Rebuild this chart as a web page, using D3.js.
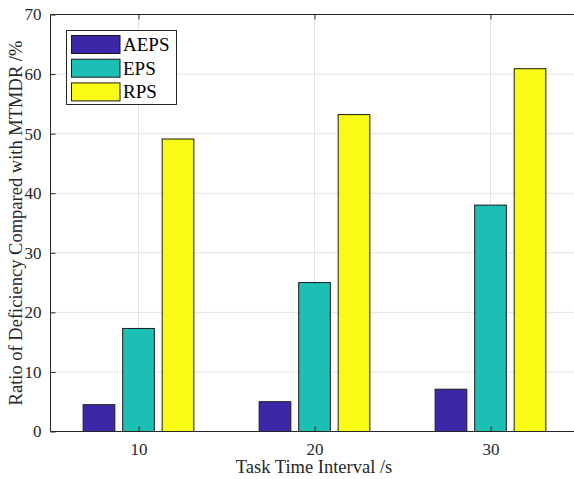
<!DOCTYPE html>
<html><head><meta charset="utf-8">
<script src="https://cdn.jsdelivr.net/npm/d3@7"></script>
<style>body{margin:0;background:#fff}svg{display:block}</style>
</head><body>
<script>
const categories = [10, 20, 30];
const seriesNames = ["AEPS", "EPS", "RPS"];
const aeps = [4.5, 5.0, 7.1];
const eps = [17.3, 25.0, 38.0];
const rps = [49.1, 53.2, 60.9];
const yTicks = [0, 10, 20, 30, 40, 50, 60, 70];
const colors = ["#3e26a8", "#1bbfb4", "#f9fb15"];
const series = [aeps, eps, rps];
const FONT = "'Liberation Serif', 'Times New Roman', Tinos, 'DejaVu Serif', serif";

const W = 574, H = 479;
const svg = d3.select("body").append("svg").attr("width", W).attr("height", H);
const pL = 50.5, pT = 14.5, pB = 431.5, pR = 578.5;
const x = d3.scaleLinear().domain([5, 35]).range([pL, pR]);
const y = d3.scaleLinear().domain([0, 70]).range([pB, pT]);

// grid
const g = svg.append("g");
g.selectAll(".gy").data(yTicks).join("line")
  .attr("x1", pL).attr("x2", pR).attr("y1", d => y(d)).attr("y2", d => y(d))
  .attr("stroke", "#e3e3e3").attr("stroke-width", 1);
g.selectAll(".gx").data(categories).join("line")
  .attr("y1", pT).attr("y2", pB).attr("x1", d => x(d)).attr("x2", d => x(d))
  .attr("stroke", "#e3e3e3").attr("stroke-width", 1);

// bars
const offsets = [-2.245, 0, 2.245];
const bw = 1.8;
series.forEach((vals, si) => {
  svg.append("g").selectAll("rect").data(vals).join("rect")
    .attr("x", (d, i) => x(categories[i] + offsets[si] - bw / 2))
    .attr("width", x(bw) - x(0))
    .attr("y", d => y(d))
    .attr("height", d => y(0) - y(d))
    .attr("fill", colors[si])
    .attr("stroke", "#1a1a1a").attr("stroke-width", 1);
});

// axes
const ax = svg.append("g").attr("stroke", "#262626").attr("fill", "none");
ax.append("line").attr("x1", pL).attr("x2", pR).attr("y1", pB).attr("y2", pB);
ax.append("line").attr("x1", pL).attr("x2", pR).attr("y1", pT).attr("y2", pT);
ax.append("line").attr("x1", pL).attr("x2", pL).attr("y1", pT).attr("y2", pB);
ax.append("line").attr("x1", pR).attr("x2", pR).attr("y1", pT).attr("y2", pB);

const yAxis = d3.axisLeft(y).tickValues(yTicks).tickSizeInner(-5).tickSizeOuter(0).tickPadding(9);
const ya = svg.append("g").attr("transform", `translate(${pL},0)`).call(yAxis);
ya.attr("font-family", null).attr("font-size", null);
ya.select(".domain").remove();
ya.selectAll("line").attr("stroke", "#262626");
ya.selectAll("text").style("font-family", FONT).style("font-size", "17px").attr("fill", "#262626");

const xAxis = d3.axisBottom(x).tickValues(categories).tickSizeInner(-5).tickSizeOuter(0).tickPadding(11);
const xa = svg.append("g").attr("transform", `translate(0,${pB})`).call(xAxis);
xa.attr("font-family", null).attr("font-size", null);
xa.select(".domain").remove();
xa.selectAll("line").attr("stroke", "#262626");
xa.selectAll("text").style("font-family", FONT).style("font-size", "17px").attr("fill", "#262626");

const xt = svg.append("g").attr("transform", `translate(0,${pT})`).call(d3.axisTop(x).tickValues(categories).tickSizeInner(-5).tickSizeOuter(0).tickFormat(""));
xt.select(".domain").remove();
xt.selectAll("line").attr("stroke", "#262626");

// titles
svg.append("text").attr("x", 314).attr("y", 473)
  .attr("text-anchor", "middle").style("font-family", FONT).style("font-size", "18.5px").attr("fill", "#262626")
  .text("Task Time Interval /s");
svg.append("text").attr("transform", `translate(22,${(pT + pB) / 2}) rotate(-90)`)
  .attr("text-anchor", "middle").style("font-family", FONT).style("font-size", "18.5px").attr("fill", "#262626")
  .text("Ratio of Deficiency Compared with MTMDR /%");

// legend
const lg = svg.append("g");
lg.append("rect").attr("x", 66.5).attr("y", 30.5).attr("width", 110).attr("height", 74)
  .attr("fill", "#fff").attr("stroke", "#262626");
seriesNames.forEach((n, i) => {
  lg.append("rect").attr("x", 71.5).attr("y", 35.5 + i * 23.7).attr("width", 48.5).attr("height", 18)
    .attr("fill", colors[i]).attr("stroke", "#1a1a1a");
  lg.append("text").attr("x", 123).attr("y", 51 + i * 23.7)
    .style("font-family", FONT).style("font-size", "19px").attr("fill", "#000").text(n);
});
</script>
</body></html>
